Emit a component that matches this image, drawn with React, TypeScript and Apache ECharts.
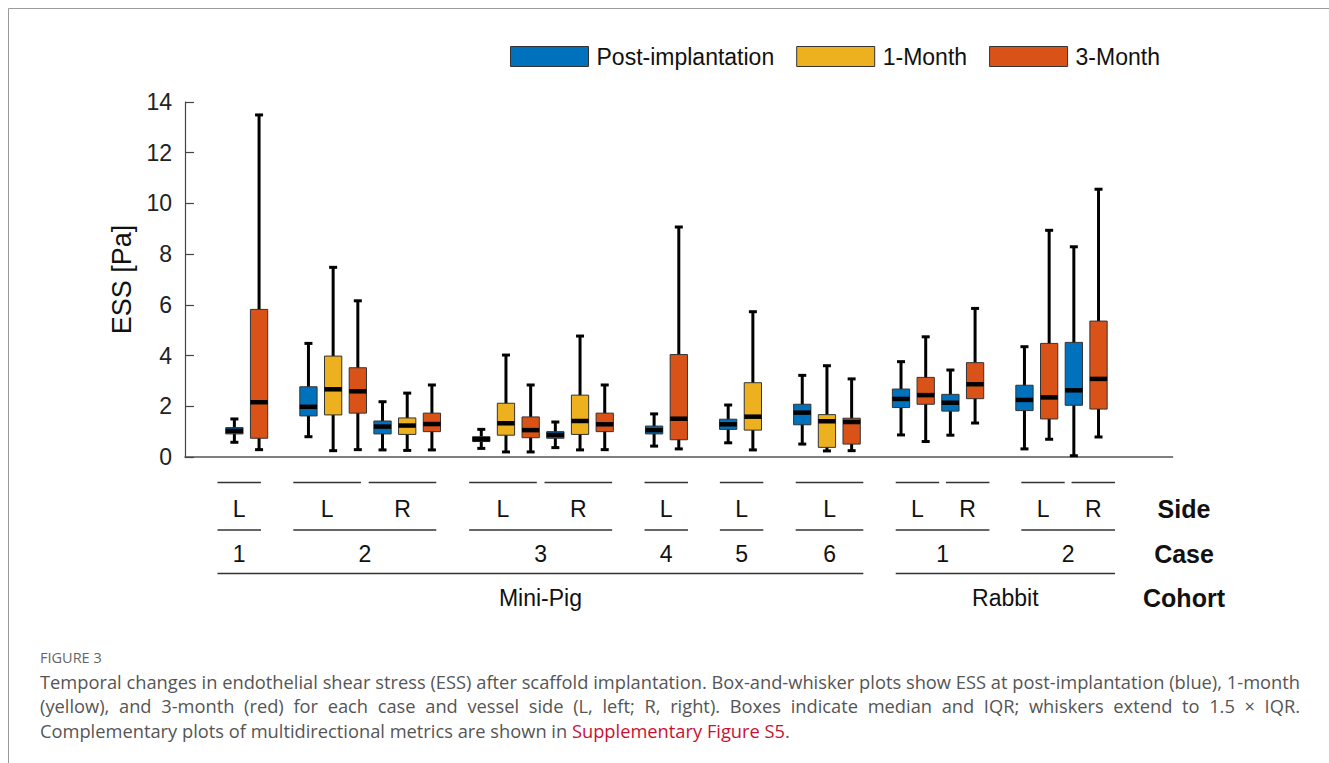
import React, { useEffect, useRef } from "react";
import * as echarts from "echarts";

// ---------- data ----------
const seriesNames = ["Post-implantation", "1-Month", "3-Month"];
const seriesColors = ["#0072BD", "#EDB120", "#D95319"];

// x slot of each box (one empty slot between cases)
const postSlots = [2, 5, 8, 12, 15, 19, 22, 25, 29, 31, 34, 36];
// [min, Q1, median, Q3, max]
const postStats = [
  [0.58, 0.91, 1.03, 1.16, 1.5],
  [0.8, 1.62, 1.98, 2.77, 4.48],
  [0.28, 0.91, 1.2, 1.42, 2.18],
  [0.34, 0.61, 0.7, 0.8, 1.09],
  [0.37, 0.74, 0.87, 1.0, 1.38],
  [0.43, 0.91, 1.06, 1.22, 1.7],
  [0.56, 1.09, 1.29, 1.49, 2.05],
  [0.51, 1.27, 1.75, 2.08, 3.22],
  [0.87, 1.95, 2.29, 2.68, 3.76],
  [0.86, 1.81, 2.14, 2.47, 3.43],
  [0.32, 1.83, 2.25, 2.83, 4.35],
  [0.05, 2.04, 2.63, 4.52, 8.29],
];
const month1Slots = [6, 9, 13, 16, 23, 26];
const month1Stats = [
  [0.25, 1.66, 2.67, 3.98, 7.48],
  [0.26, 0.89, 1.24, 1.54, 2.52],
  [0.2, 0.86, 1.33, 2.12, 4.02],
  [0.28, 0.89, 1.42, 2.44, 4.77],
  [0.28, 1.06, 1.59, 2.93, 5.73],
  [0.24, 0.38, 1.41, 1.67, 3.6],
];
const month3Slots = [3, 7, 10, 14, 17, 20, 27, 30, 32, 35, 37];
const month3Stats = [
  [0.29, 0.74, 2.16, 5.82, 13.49],
  [0.29, 1.73, 2.59, 3.52, 6.16],
  [0.28, 1.0, 1.3, 1.73, 2.84],
  [0.2, 0.76, 1.06, 1.58, 2.84],
  [0.29, 1.0, 1.29, 1.73, 2.84],
  [0.32, 0.68, 1.51, 4.04, 9.07],
  [0.25, 0.51, 1.38, 1.53, 3.08],
  [0.61, 2.08, 2.44, 3.14, 4.74],
  [1.34, 2.3, 2.87, 3.72, 5.86],
  [0.7, 1.5, 2.35, 4.48, 8.94],
  [0.79, 1.89, 3.08, 5.36, 10.56],
];

const yMin = 0;
const yMax = 14;
const yInterval = 2;
const slotCount = 40;

// grouping labels under the axis
const sideGroups = [
  { label: "L", slots: [2, 3] },
  { label: "L", slots: [5, 6, 7] },
  { label: "R", slots: [8, 9, 10] },
  { label: "L", slots: [12, 13, 14] },
  { label: "R", slots: [15, 16, 17] },
  { label: "L", slots: [19, 20] },
  { label: "L", slots: [22, 23] },
  { label: "L", slots: [25, 26, 27] },
  { label: "L", slots: [29, 30] },
  { label: "R", slots: [31, 32] },
  { label: "L", slots: [34, 35] },
  { label: "R", slots: [36, 37] },
];
const caseGroups = [
  { label: "1", sides: [0, 0] },
  { label: "2", sides: [1, 2] },
  { label: "3", sides: [3, 4] },
  { label: "4", sides: [5, 5] },
  { label: "5", sides: [6, 6] },
  { label: "6", sides: [7, 7] },
  { label: "1", sides: [8, 9] },
  { label: "2", sides: [10, 11] },
];
const cohortGroups = [
  { label: "Mini-Pig", sides: [0, 7] },
  { label: "Rabbit", sides: [8, 11] },
];
const rowTitles = ["Side", "Case", "Cohort"];

const captionTitle = "FIGURE 3";
const captionLines = [
  "Temporal changes in endothelial shear stress (ESS) after scaffold implantation. Box-and-whisker plots show ESS at post-implantation (blue), 1-month",
  "(yellow), and 3-month (red) for each case and vessel side (L, left; R, right). Boxes indicate median and IQR; whiskers extend to 1.5 × IQR.",
];
const captionLast = "Complementary plots of multidirectional metrics are shown in ";
const captionLink = "Supplementary Figure S5";

// ---------- layout ----------
const W = 1329;
const H = 763;
const GRID = { left: 185, top: 102, width: 987.6, height: 355 };
const FONT = "Liberation Sans";
const CAP_FONT = "Open Sans";

function buildSeriesData(slots: number[], stats: number[][]) {
  return slots.map((s, i) => [s, ...stats[i]]);
}

function renderBox(params: any, api: any) {
  const x = api.value(0);
  const pMin = api.coord([x, api.value(1)]);
  const yQ1 = api.coord([x, api.value(2)])[1];
  const yMed = api.coord([x, api.value(3)])[1];
  const yQ3 = api.coord([x, api.value(4)])[1];
  const yMx = api.coord([x, api.value(5)])[1];
  const cx = pMin[0];
  const yMn = pMin[1];
  const bw = api.size([1, 0])[0] * 0.7;
  const half = bw / 2;
  const cap = 4;
  const color = api.visual("color");
  return {
    type: "group",
    children: [
      { type: "line", shape: { x1: cx, y1: yMx, x2: cx, y2: yMn }, style: { stroke: "#000", lineWidth: 3 } },
      { type: "line", shape: { x1: cx - cap, y1: yMx, x2: cx + cap, y2: yMx }, style: { stroke: "#000", lineWidth: 3 } },
      { type: "line", shape: { x1: cx - cap, y1: yMn, x2: cx + cap, y2: yMn }, style: { stroke: "#000", lineWidth: 3 } },
      {
        type: "rect",
        shape: { x: cx - half, y: yQ3, width: bw, height: yQ1 - yQ3 },
        style: { fill: color, stroke: "#333", lineWidth: 1 },
      },
      { type: "line", shape: { x1: cx - half, y1: yMed, x2: cx + half, y2: yMed }, style: { stroke: "#000", lineWidth: 4.5 } },
    ],
  };
}

function textEl(text: string, x: number, y: number, size: number, opts: any = {}) {
  const align = opts.align || "center";
  return {
    type: "text",
    x,
    y,
    silent: true,
    style: {
      text,
      fontSize: size,
      fontFamily: opts.family || FONT,
      fontWeight: opts.weight || "normal",
      fill: opts.color || "#111",
      align,
      textAlign: align,
      verticalAlign: "middle",
      textVerticalAlign: "middle",
    },
  };
}

function lineEl(x1: number, y1: number, x2: number, y2: number, color = "#333", width = 1.5) {
  return { type: "line", silent: true, shape: { x1, y1, x2, y2 }, style: { stroke: color, lineWidth: width } };
}

export default function App() {
  const ref = useRef<HTMLDivElement>(null);

  useEffect(() => {
    document.body.style.margin = "0";
    if (!ref.current) return;
    const chart = echarts.init(ref.current, null, { renderer: "svg", width: W, height: H });

    const datasets = [
      buildSeriesData(postSlots, postStats),
      buildSeriesData(month1Slots, month1Stats),
      buildSeriesData(month3Slots, month3Stats),
    ];

    chart.setOption({
      animation: false,
      backgroundColor: "#fff",
      color: seriesColors,
      grid: {
        left: GRID.left,
        top: GRID.top,
        width: GRID.width,
        height: GRID.height,
        containLabel: false,
      },
      legend: {
        left: 505,
        top: 40,
        itemWidth: 78,
        itemHeight: 20,
        itemGap: 22,
        icon: "rect",
        data: seriesNames,
        selectedMode: false,
        itemStyle: { borderColor: "#333", borderWidth: 1 },
        textStyle: { fontSize: 23, fontFamily: FONT, color: "#111", padding: [0, 0, 0, 3] },
      },
      xAxis: {
        type: "value",
        min: 0,
        max: slotCount,
        axisLine: { show: true, lineStyle: { color: "#555", width: 1.5 } },
        axisTick: { show: false },
        axisLabel: { show: false },
        splitLine: { show: false },
      },
      yAxis: {
        type: "value",
        min: yMin,
        max: yMax,
        interval: yInterval,
        name: "ESS [Pa]",
        nameLocation: "middle",
        nameGap: 48,
        nameTextStyle: { fontSize: 27, fontFamily: FONT, color: "#111" },
        axisLine: { show: true, lineStyle: { color: "#444", width: 1.2 } },
        axisTick: { show: true, inside: true, length: 9, lineStyle: { color: "#444", width: 1.2 } },
        axisLabel: { fontSize: 23, fontFamily: FONT, color: "#222", margin: 13 },
        splitLine: { show: false },
      },
      series: datasets.map((d, i) => ({
        name: seriesNames[i],
        type: "custom",
        renderItem: renderBox,
        itemStyle: { color: seriesColors[i], borderColor: "#333", borderWidth: 1 },
        encode: { x: 0, y: [1, 2, 3, 4, 5] },
        data: d,
        z: 2,
      })),
    });

    // --- annotation layer computed through the chart's own x scale ---
    const px = (u: number) => (chart.convertToPixel({ gridIndex: 0 }, [u, 0]) as number[])[0];
    const yLine1 = 482.5;
    const yLabel1 = 509;
    const yLine2 = 530;
    const yLabel2 = 554;
    const yLine3 = 573.5;
    const yLabel3 = 598;

    const sideSpan = sideGroups.map((g) => {
      const n = g.slots.length;
      const mid = (g.slots[0] + g.slots[n - 1]) / 2;
      const c = 1.0174 * mid - 0.348;
      const half = 0.49 * n - 0.1;
      return [px(c - half), px(c + half)];
    });

    const graphics: any[] = [];
    // figure frame
    graphics.push(lineEl(8.5, 8.5, W, 8.5, "#9a9a9a", 1));
    graphics.push(lineEl(8.5, 8.5, 8.5, H, "#9a9a9a", 1));

    sideGroups.forEach((g, i) => {
      const [a, b] = sideSpan[i];
      graphics.push(lineEl(a, yLine1, b, yLine1));
      graphics.push(textEl(g.label, (a + b) / 2, yLabel1, 23));
    });
    caseGroups.forEach((g) => {
      const a = sideSpan[g.sides[0]][0];
      const b = sideSpan[g.sides[1]][1];
      graphics.push(lineEl(a, yLine2, b, yLine2));
      graphics.push(textEl(g.label, (a + b) / 2, yLabel2, 23));
    });
    cohortGroups.forEach((g) => {
      const a = sideSpan[g.sides[0]][0];
      const b = sideSpan[g.sides[1]][1];
      graphics.push(lineEl(a, yLine3, b, yLine3));
      graphics.push(textEl(g.label, (a + b) / 2, yLabel3, 23));
    });
    [yLabel1, yLabel2, yLabel3].forEach((y, i) => {
      graphics.push(textEl(rowTitles[i], 1184, y, 25, { align: "center", weight: "bold" }));
    });

    // --- caption (justified like the journal layout) ---
    const probe = document.createElement("span");
    probe.style.position = "absolute";
    probe.style.visibility = "hidden";
    probe.style.whiteSpace = "pre";
    probe.style.left = "-9999px";
    probe.style.top = "0";
    document.body.appendChild(probe);
    const measure = (t: string, fs: number) => {
      probe.style.font = `${fs}px "${CAP_FONT}"`;
      probe.textContent = t;
      return probe.getBoundingClientRect().width;
    };
    const capLeft = 40;
    const capRight = 1300;
    let fs = (16 * (capRight - capLeft)) / measure(captionLines[0], 16);
    fs = Math.max(13, Math.min(19, fs));
    const capColor = "#555";
    const lineYs = [681, 705.5];
    const captionEls: any[] = [];
    captionLines.forEach((line, li) => {
      const words = line.split(" ");
      const widths = words.map((w) => measure(w, fs));
      const total = widths.reduce((s, v) => s + v, 0);
      const gap = (capRight - capLeft - total) / (words.length - 1);
      let x = capLeft;
      words.forEach((w, wi) => {
        captionEls.push(textEl(w, x, lineYs[li], fs, { align: "left", family: CAP_FONT, color: capColor }));
        x += widths[wi] + gap;
      });
    });
    document.body.removeChild(probe);

    graphics.push(textEl(captionTitle, capLeft, 657, 14.5, { align: "left", family: CAP_FONT, color: "#666" }));
    graphics.push(...captionEls);
    graphics.push({
      type: "text",
      x: capLeft,
      y: 730,
      silent: true,
      style: {
        text: `{a|${captionLast}}{b|${captionLink}}{a|.}`,
        align: "left",
        textAlign: "left",
        verticalAlign: "middle",
        textVerticalAlign: "middle",
        rich: {
          a: { fontSize: fs, fontFamily: CAP_FONT, fill: capColor, color: capColor },
          b: { fontSize: fs, fontFamily: CAP_FONT, fill: "#cc1030", color: "#cc1030" },
        },
      },
    });

    chart.setOption({ graphic: graphics });

    return () => chart.dispose();
  }, []);

  return <div ref={ref} style={{ width: W, height: H }} />;
}
